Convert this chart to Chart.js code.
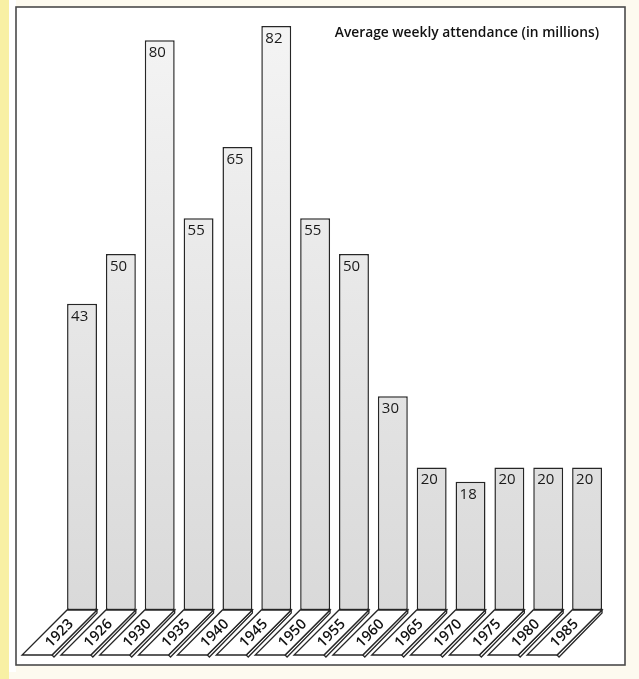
<!DOCTYPE html>
<html>
<head>
<meta charset="utf-8">
<title>Average weekly attendance</title>
<script src="https://cdn.jsdelivr.net/npm/chart.js@4/dist/chart.umd.min.js"></script>
<style>
    html, body { margin: 0; padding: 0; background: #fdfaf0; }
    canvas { display: block; }
</style>
</head>
<body>
<canvas id="chart" width="639" height="679"></canvas>
<script>
'use strict';

const years = ['1923', '1926', '1930', '1935', '1940', '1945', '1950',
    '1955', '1960', '1965', '1970', '1975', '1980', '1985'];
const attendance = [43, 50, 80, 55, 65, 82, 55, 50, 30, 20, 18, 20, 20, 20];
const titleText = 'Average weekly attendance (in millions)';

const INK = '#262626';
const FONT = '"Open Sans", "DejaVu Sans", sans-serif';

/**
 * paper background, yellow strip on the left and the box round the chart
 */
const framePlugin = {
    id: 'frame',
    beforeDraw: function (chart) {
        const ctx = chart.ctx;

        ctx.save();
        ctx.fillStyle = '#fdfaef';
        ctx.fillRect(0, 0, chart.width, chart.height);
        ctx.fillStyle = '#f8f0a4';
        ctx.fillRect(0, 0, 9, chart.height);
        ctx.fillStyle = '#ffffff';
        ctx.fillRect(9, 0, 7, 672);
        ctx.fillRect(16, 7, 609, 658);
        ctx.strokeStyle = '#4a4a4a';
        ctx.lineWidth = 1.6;
        ctx.strokeRect(16, 7, 609, 658);

        ctx.fillStyle = '#111';
        ctx.font = '600 13.8px ' + FONT;
        ctx.textAlign = 'right';
        ctx.textBaseline = 'middle';
        ctx.fillText(titleText, 599, 33);
        ctx.restore();
    }
};

/**
 * slanted floor tiles under each bar with the year written on them,
 * and the value printed in the top of each bar
 */
const tilesPlugin = {
    id: 'tiles',
    afterDatasetsDraw: function (chart) {
        const ctx = chart.ctx;
        const meta = chart.getDatasetMeta(0);
        const base = chart.scales.y.getPixelForValue(0);
        const drop = 45;

        ctx.save();
        meta.data.forEach(function (bar, i) {
            const half = bar.width / 2;
            const l = bar.x - half;
            const r = bar.x + half;

            // side strip of the tile
            ctx.beginPath();
            ctx.moveTo(r, base);
            ctx.lineTo(r, base + 3);
            ctx.lineTo(r - drop + 2, base + drop + 2);
            ctx.lineTo(r - drop, base + drop);
            ctx.closePath();
            ctx.fillStyle = '#ffffff';
            ctx.fill();
            ctx.strokeStyle = INK;
            ctx.lineWidth = 1.3;
            ctx.stroke();

            // top face
            ctx.beginPath();
            ctx.moveTo(l, base);
            ctx.lineTo(r, base);
            ctx.lineTo(r - drop, base + drop);
            ctx.lineTo(l - drop, base + drop);
            ctx.closePath();
            ctx.fillStyle = '#ffffff';
            ctx.fill();
            ctx.stroke();

            ctx.save();
            ctx.translate(bar.x - drop / 2, base + drop / 2 + 1);
            ctx.rotate(-Math.PI / 4);
            ctx.fillStyle = '#111';
            ctx.font = '600 14.5px ' + FONT;
            ctx.textAlign = 'center';
            ctx.textBaseline = 'middle';
            ctx.fillText(years[i], 0, 0);
            ctx.restore();

            ctx.fillStyle = '#1a1a1a';
            ctx.font = '15px ' + FONT;
            ctx.textAlign = 'left';
            ctx.textBaseline = 'top';
            ctx.fillText(String(attendance[i]), l + 4, bar.y + 5);
        });
        ctx.restore();
    }
};

new Chart(document.getElementById('chart'), {
    type: 'bar',
    data: {
        labels: years,
        datasets: [{
            data: attendance,
            backgroundColor: function (context) {
                const area = context.chart.chartArea;

                if (!area) {
                    return '#e2e2e2';
                }
                const grad = context.chart.ctx.createLinearGradient(0, area.top, 0, area.bottom);

                grad.addColorStop(0, '#f4f4f4');
                grad.addColorStop(1, '#d9d9d9');

                return grad;
            },
            borderColor: INK,
            borderWidth: 1.5,
            borderSkipped: false,
            barPercentage: 0.77,
            categoryPercentage: 1
        }]
    },
    options: {
        responsive: false,
        devicePixelRatio: 1,
        animation: false,
        layout: {
            padding: {left: 62.6, right: 32.5, top: 26, bottom: 69}
        },
        plugins: {
            legend: {display: false},
            tooltip: {enabled: false},
            title: {display: false}
        },
        scales: {
            x: {display: false},
            y: {display: false, min: 0, max: 82}
        }
    },
    plugins: [framePlugin, tilesPlugin]
});
</script>
</body>
</html>
